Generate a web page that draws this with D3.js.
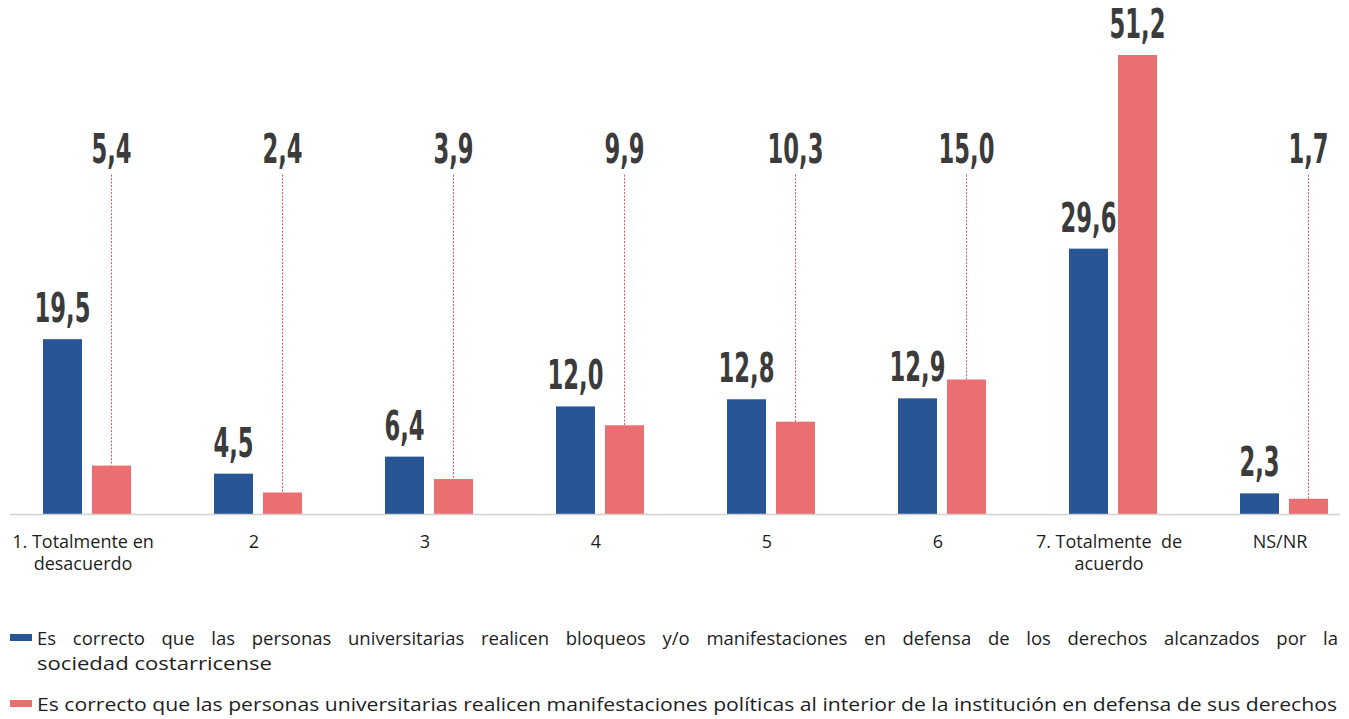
<!DOCTYPE html>
<meta charset="utf-8">
<style>
body { margin: 0; background: #fff; }
.val { font-family: "Liberation Sans Narrow", "DejaVu Sans Condensed", "Arial Narrow", sans-serif; font-weight: bold; fill: #3b3b3b; }
.cat { font-family: "Open Sans", "Noto Sans", sans-serif; font-size: 18px; fill: #1e1e1e; }
.leg { font-family: "Open Sans", "Noto Sans", sans-serif; font-size: 18.5px; fill: #1e1e1e; }
</style>
<svg width="1349" height="719"></svg>
<script src="https://cdn.jsdelivr.net/npm/d3@7"></script>
<script>

var categories = [["1. Totalmente en", "desacuerdo"], ["2"], ["3"], ["4"], ["5"], ["6"], ["7. Totalmente  de", "acuerdo"], ["NS/NR"]];
var bloqueos = [19.5, 4.5, 6.4, 12.0, 12.8, 12.9, 29.6, 2.3];
var manifestaciones = [5.4, 2.4, 3.9, 9.9, 10.3, 15.0, 51.2, 1.7];
var seriesNames = [
  "Es correcto que las personas universitarias realicen bloqueos y/o manifestaciones en defensa de los derechos alcanzados por la",
  "sociedad costarricense",
  "Es correcto que las personas universitarias realicen manifestaciones políticas al interior de la institución en defensa de sus derechos"
];
var colors = ["#285596", "#eb6f70"];

var svg = d3.select("svg"),
    width = +svg.attr("width"),
    height = +svg.attr("height");

var baseY = 514;
var x = d3.scaleBand().domain(d3.range(categories.length)).range([1.5, 1.5 + 171 * categories.length]);
var xs = d3.scaleBand().domain([0, 1]).range([x.bandwidth() / 2 - 44, x.bandwidth() / 2 + 44]).paddingInner(0.204);
var y = d3.scaleLinear().domain([0, 51.2]).range([baseY, 55]);

// level (in chart units) where the red labels sit when a leader line is used
var leaderLevel = 39.2;

var rows = categories.map(function (c, i) {
  return {i: i, cat: c, vals: [bloqueos[i], manifestaciones[i]]};
});

var g = svg.selectAll(".grp")
    .data(rows)
    .enter()
    .append("g")
    .attr("class", "grp")
    .attr("transform", function (d) { return "translate(" + x(d.i) + ",0)"; });

// leader lines first (behind bars)
g.filter(function (d) { return d.vals[1] < leaderLevel - 5; })
  .append("line")
    .attr("x1", xs(1) + xs.bandwidth() / 2)
    .attr("x2", xs(1) + xs.bandwidth() / 2)
    .attr("y1", y(leaderLevel) + 12)
    .attr("y2", function (d) { return y(d.vals[1]); })
    .style("stroke", "#e0575a")
    .style("stroke-width", 1)
    .style("stroke-dasharray", "2,1.5");

g.selectAll("rect")
  .data(function (d) { return d.vals.map(function (v, k) { return {k: k, v: v}; }); })
  .enter()
  .append("rect")
    .attr("x", function (d) { return xs(d.k); })
    .attr("width", xs.bandwidth())
    .attr("y", function (d) { return y(d.v); })
    .attr("height", function (d) { return baseY - y(d.v); })
    .style("fill", function (d) { return colors[d.k]; });

function fmt(v) { return v.toFixed(1).replace(".", ","); }

function valLabel(sel, cx, cy, txt) {
  sel.append("text")
    .attr("class", "val")
    .attr("text-anchor", "middle")
    .attr("font-size", 40)
    .attr("transform", "translate(" + cx + "," + cy + ") scale(0.63,1)")
    .text(txt);
}

g.each(function (d) {
  var s = d3.select(this);
  valLabel(s, xs(0) + xs.bandwidth() / 2, y(d.vals[0]) - 17, fmt(d.vals[0]));
  var ry = d.vals[1] < leaderLevel - 5 ? y(leaderLevel) : y(d.vals[1]) - 17;
  valLabel(s, xs(1) + xs.bandwidth() / 2, ry, fmt(d.vals[1]));
});

// axis
svg.append("line")
  .attr("x1", 10).attr("x2", 1340)
  .attr("y1", baseY + 0.5).attr("y2", baseY + 0.5)
  .style("stroke", "#d0d0d0")
  .style("stroke-width", 1.5);

var cat = g.append("text")
  .attr("class", "cat")
  .attr("text-anchor", "middle")
  .attr("x", x.bandwidth() / 2 - 4)
  .attr("y", 548)
  .style("white-space", "pre");

cat.selectAll("tspan")
  .data(function (d) { return d.cat; })
  .enter()
  .append("tspan")
    .attr("x", x.bandwidth() / 2 - 4)
    .attr("dy", function (d, i) { return i === 0 ? 0 : 22; })
    .text(function (d) { return d; });

// legend
var leg = svg.append("g");
leg.append("rect").attr("x", 10).attr("y", 634).attr("width", 22).attr("height", 7).style("fill", colors[0]);
leg.append("rect").attr("x", 10).attr("y", 700).attr("width", 22).attr("height", 7).style("fill", colors[1]);

var l1 = leg.append("text").attr("class", "leg").attr("x", 37).attr("y", 645).text(seriesNames[0]);
var l2 = leg.append("text").attr("class", "leg").attr("x", 37).attr("y", 670).text(seriesNames[1]);
var l3 = leg.append("text").attr("class", "leg").attr("x", 37).attr("y", 711).text(seriesNames[2]);

// justify first legend line by word spacing
var w1 = l1.node().getComputedTextLength();
var nsp = seriesNames[0].split(" ").length - 1;
var target = 1338 - 37;
if (w1 < target) {
  l1.style("word-spacing", ((target - w1) / nsp) + "px");
} else {
  l1.attr("textLength", target).attr("lengthAdjust", "spacingAndGlyphs");
}
l2.attr("textLength", 235).attr("lengthAdjust", "spacingAndGlyphs");
l3.attr("textLength", 1300).attr("lengthAdjust", "spacingAndGlyphs");

</script>
